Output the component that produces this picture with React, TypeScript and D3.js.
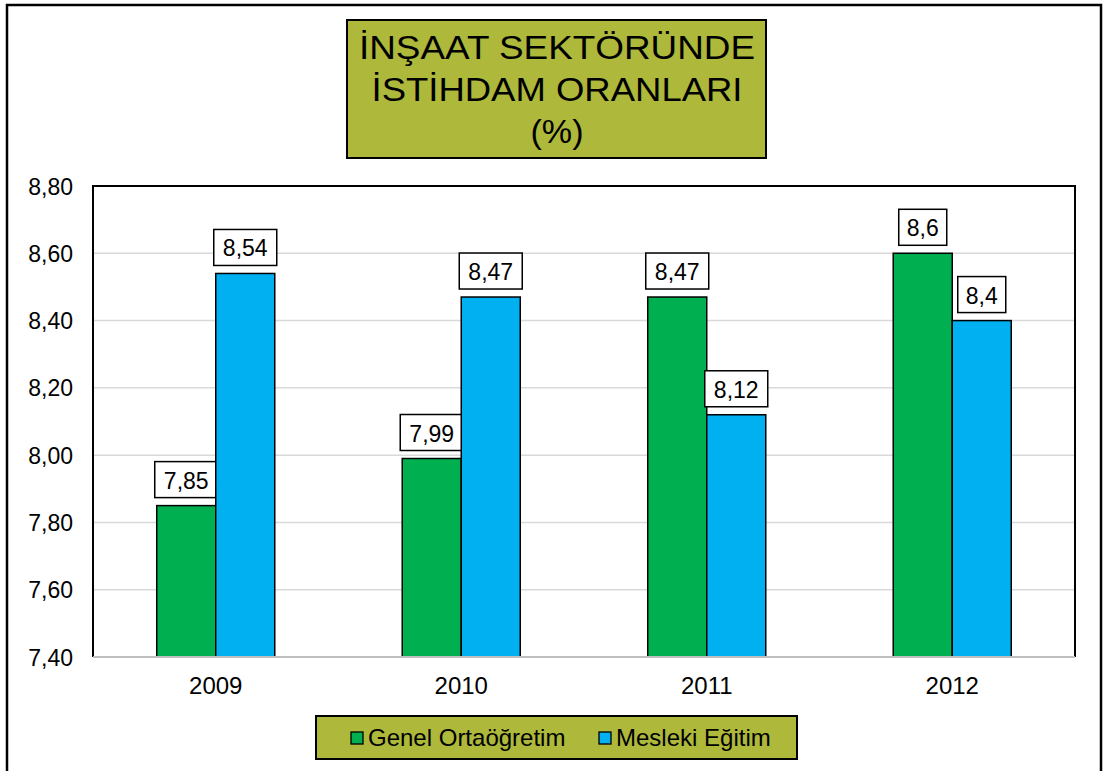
import { useEffect, useRef } from 'react';
import * as d3 from 'd3';

const W = 1105;
const H = 771;

const years = ['2009', '2010', '2011', '2012'];
const genel = [7.85, 7.99, 8.47, 8.6];
const mesleki = [8.54, 8.47, 8.12, 8.4];
const seriesNames = ['Genel Ortaöğretim', 'Mesleki Eğitim'];
const yTicks = [7.4, 7.6, 7.8, 8.0, 8.2, 8.4, 8.6, 8.8];
const titleLines = ['İNŞAAT SEKTÖRÜNDE', 'İSTİHDAM ORANLARI', '(%)'];

const colors = ['#00B050', '#00B0F0'];
const olive = '#AEB83A';
const font = 'Arial, "Liberation Sans", sans-serif';

const App = () => {
  const ref = useRef<SVGSVGElement>(null);

  useEffect(() => {
    const svg = d3.select(ref.current);
    svg.selectAll('*').remove();

    const plot = { left: 93, top: 186, right: 1075, bottom: 657 };

    // outer frame
    svg.append('rect')
      .attr('x', 7).attr('y', 5).attr('width', 1094).attr('height', 780)
      .attr('fill', '#fff').attr('stroke', '#000').attr('stroke-width', 2.5);

    // title box
    svg.append('rect')
      .attr('x', 347).attr('y', 20).attr('width', 419).attr('height', 138)
      .attr('fill', olive).attr('stroke', '#000').attr('stroke-width', 2);
    const titleW = [396, 371, 53];
    svg.append('g')
      .selectAll('text')
      .data(titleLines)
      .join('text')
      .attr('x', 557)
      .attr('y', (d, i) => 59 + i * 42)
      .attr('text-anchor', 'middle')
      .attr('font-family', font)
      .attr('font-size', 33)
      .attr('textLength', (d, i) => titleW[i])
      .attr('lengthAdjust', 'spacingAndGlyphs')
      .attr('fill', '#000')
      .text((d) => d);

    const x = d3.scaleBand().domain(years).range([plot.left, plot.right]);
    const inner = d3.scaleBand().domain(['0', '1']).range([0, x.bandwidth()]).paddingOuter(1.08);
    const y = d3.scaleLinear().domain([7.4, 8.8]).range([plot.bottom, plot.top]);

    // plot area + grid
    svg.append('rect')
      .attr('x', plot.left).attr('y', plot.top)
      .attr('width', plot.right - plot.left).attr('height', plot.bottom - plot.top)
      .attr('fill', '#fff');
    svg.append('g')
      .selectAll('line')
      .data(yTicks.slice(1, -1))
      .join('line')
      .attr('x1', plot.left).attr('x2', plot.right)
      .attr('y1', (d) => y(d)).attr('y2', (d) => y(d))
      .attr('stroke', '#D9D9D9').attr('stroke-width', 1.5);

    // y tick labels
    svg.append('g')
      .selectAll('text')
      .data(yTicks)
      .join('text')
      .attr('x', 73)
      .attr('y', (d) => y(d) + 8.5)
      .attr('text-anchor', 'end')
      .attr('font-family', font)
      .attr('font-size', 23)
      .text((d) => d3.format('.2f')(d).replace('.', ','));

    // bars
    const series = [genel, mesleki];
    series.forEach((vals, si) => {
      const g = svg.append('g');
      g.selectAll('rect')
        .data(vals)
        .join('rect')
        .attr('x', (d, i) => (x(years[i]) as number) + (inner(String(si)) as number))
        .attr('y', (d) => y(d))
        .attr('width', inner.bandwidth())
        .attr('height', (d) => plot.bottom - y(d))
        .attr('fill', colors[si])
        .attr('stroke', '#000')
        .attr('stroke-width', 1.5);

      // value labels
      const lab = svg.append('g');
      vals.forEach((v, i) => {
        const cx = (x(years[i]) as number) + (inner(String(si)) as number) + inner.bandwidth() / 2;
        const txt = String(v).replace('.', ',');
        const bw = txt.length <= 3 ? 48 : 63;
        const by = y(v) - 44;
        lab.append('rect')
          .attr('x', cx - bw / 2).attr('y', by)
          .attr('width', bw).attr('height', 36)
          .attr('fill', '#fff').attr('stroke', '#000').attr('stroke-width', 1.5);
        lab.append('text')
          .attr('x', cx).attr('y', by + 27)
          .attr('text-anchor', 'middle')
          .attr('font-family', font)
          .attr('font-size', 23)
          .text(txt);
      });
    });

    // plot border (top, left, right) and bottom axis
    svg.append('path')
      .attr('d', `M${plot.left},${plot.bottom}V${plot.top}H${plot.right}V${plot.bottom}`)
      .attr('fill', 'none').attr('stroke', '#000').attr('stroke-width', 2);
    svg.append('line')
      .attr('x1', plot.left).attr('x2', plot.right)
      .attr('y1', plot.bottom).attr('y2', plot.bottom)
      .attr('stroke', '#BFBFBF').attr('stroke-width', 2);

    // x labels
    svg.append('g')
      .selectAll('text')
      .data(years)
      .join('text')
      .attr('x', (d) => (x(d) as number) + x.bandwidth() / 2)
      .attr('y', 694)
      .attr('text-anchor', 'middle')
      .attr('font-family', font)
      .attr('font-size', 24)
      .text((d) => d);

    // legend
    const leg = svg.append('g');
    leg.append('rect')
      .attr('x', 316).attr('y', 716).attr('width', 481).attr('height', 43)
      .attr('fill', olive).attr('stroke', '#000').attr('stroke-width', 2);
    const legX = [351, 599];
    seriesNames.forEach((name, i) => {
      leg.append('rect')
        .attr('x', legX[i]).attr('y', 732).attr('width', 12).attr('height', 12)
        .attr('fill', colors[i]).attr('stroke', '#000').attr('stroke-width', 1.3);
      leg.append('text')
        .attr('x', legX[i] + 17).attr('y', 746)
        .attr('font-family', font)
        .attr('font-size', 24)
        .text(name);
    });
  }, []);

  return (
    <svg
      ref={ref}
      width={W}
      height={H}
      viewBox={`0 0 ${W} ${H}`}
      style={{ position: 'fixed', top: 0, left: 0, display: 'block' }}
    />
  );
};

export default App;
